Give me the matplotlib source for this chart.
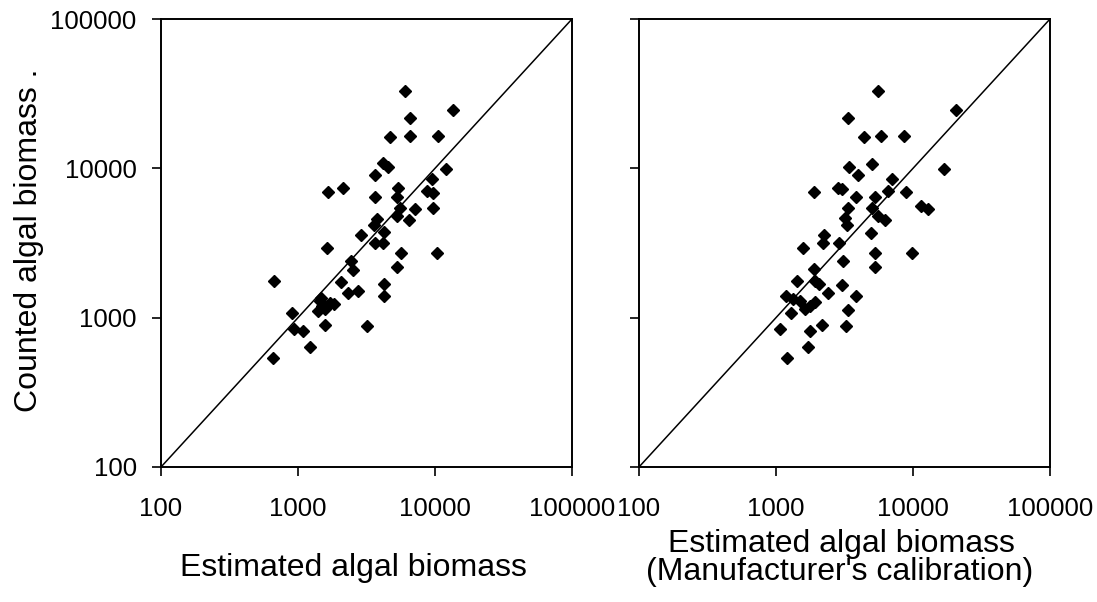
import numpy as np
import matplotlib.pyplot as plt
from matplotlib.ticker import FixedLocator, FixedFormatter, NullLocator

plt.rcParams["font.family"] = ["Liberation Sans", "DejaVu Sans"]

# ── DATA ──────────────────────────────────────────────────────
# left panel: estimated vs counted algal biomass
est_left = [6000, 13640, 6530, 4660, 6530, 10450, 4160, 4530, 12030, 3650,
            9440, 1652, 2133, 5360, 5270, 3650, 8670, 9710, 5570, 7190,
            9710, 3780, 5270, 6430, 3610, 4270, 2880, 3650, 4200, 1618,
            5680, 10400, 2430, 2500, 5270, 668, 2075, 4270, 2300, 2720,
            4270, 1476, 1830, 1450, 1500, 1580, 1700, 1400, 903, 1563,
            3180, 929, 1082, 1232, 655]
cnt_left = [33000, 24500, 21700, 16300, 16500, 16500, 10800, 10250, 9950, 9020,
            8530, 6930, 7350, 7420, 6460, 6460, 7040, 6870, 5450, 5380,
            5450, 4600, 4790, 4480, 4170, 3740, 3550, 3170, 3170, 2940,
            2720, 2720, 2390, 2070, 2190, 1770, 1730, 1680, 1465, 1520,
            1405, 1357, 1242, 1300, 1200, 1150, 1250, 1100, 1075, 888,
            884, 839, 810, 641, 536]

# right panel: estimated (manufacturer's calibration) vs counted
est_right = [5550, 20500, 3350, 4420, 5800, 8620, 3390, 4980, 3970, 16700,
             7080, 1890, 2830, 3030, 6580, 8870, 3840, 5270, 3350, 5030,
             11500, 12800, 3210, 3290, 5570, 6250, 4900, 2240, 2220, 2860,
             1563, 5270, 9800, 3060, 1905, 5270, 1413, 1925, 2060, 3030,
             2415, 3840, 1192, 1335, 1495, 1925, 1770, 1620, 1297, 3350,
             2160, 3240, 1065, 1770, 1703, 1210]
cnt_right = [33000, 24500, 21700, 16300, 16500, 16500, 10250, 10640, 9020, 9950,
             8530, 6930, 7420, 7250, 7040, 6930, 6460, 6460, 5450, 5450,
             5560, 5380, 4620, 4170, 4790, 4480, 3700, 3580, 3170, 3170,
             2940, 2720, 2720, 2390, 2120, 2190, 1770, 1750, 1680, 1665,
             1465, 1405, 1390, 1330, 1290, 1265, 1190, 1135, 1075, 1120,
             888, 884, 839, 810, 641, 536]

ticks = [100, 1000, 10000, 100000]
tick_labels = ["100", "1000", "10000", "100000"]

# ── PLOT ──────────────────────────────────────────────────────
W, H = 1097, 602
fig = plt.figure(figsize=(W / 100, H / 100), dpi=100)
ax_l = fig.add_axes([161 / W, 1 - 467 / H, 411 / W, 448 / H])
ax_r = fig.add_axes([639 / W, 1 - 467 / H, 411 / W, 448 / H])

for ax, xs, ys in [(ax_l, est_left, cnt_left), (ax_r, est_right, cnt_right)]:
    ax.set_xscale("log")
    ax.set_yscale("log")
    ax.set_xlim(100, 100000)
    ax.set_ylim(100, 100000)
    ax.plot([100, 100000], [100, 100000], color="black", lw=1.1)
    ax.plot(xs, ys, "D", color="black", ms=6.3, mec="black", lw=0)
    ax.xaxis.set_major_locator(FixedLocator(ticks))
    ax.yaxis.set_major_locator(FixedLocator(ticks))
    ax.xaxis.set_minor_locator(NullLocator())
    ax.yaxis.set_minor_locator(NullLocator())
    ax.xaxis.set_major_formatter(FixedFormatter(tick_labels))
    ax.tick_params(direction="out", length=6.5, width=1.2, labelsize=18.5)
    ax.tick_params(axis="x", pad=15)
    ax.tick_params(axis="y", pad=11)
    for sp in ax.spines.values():
        sp.set_linewidth(1.4)

ax_l.yaxis.set_major_formatter(FixedFormatter(tick_labels))
ax_r.set_yticklabels([])

fig.text(37 / W, 1 - 240 / H, "Counted algal biomass .", fontsize=23,
         rotation=90, rotation_mode="anchor", ha="center", va="baseline")
fig.text(353 / W, 1 - 576 / H, "Estimated algal biomass", fontsize=23,
         ha="center", va="baseline")
fig.text(841 / W, 1 - 552 / H, "Estimated algal biomass", fontsize=23,
         ha="center", va="baseline")
fig.text(840 / W, 1 - 580 / H, "(Manufacturer's calibration)", fontsize=23,
         ha="center", va="baseline")

plt.savefig("out.png", dpi=100)
plt.close()
